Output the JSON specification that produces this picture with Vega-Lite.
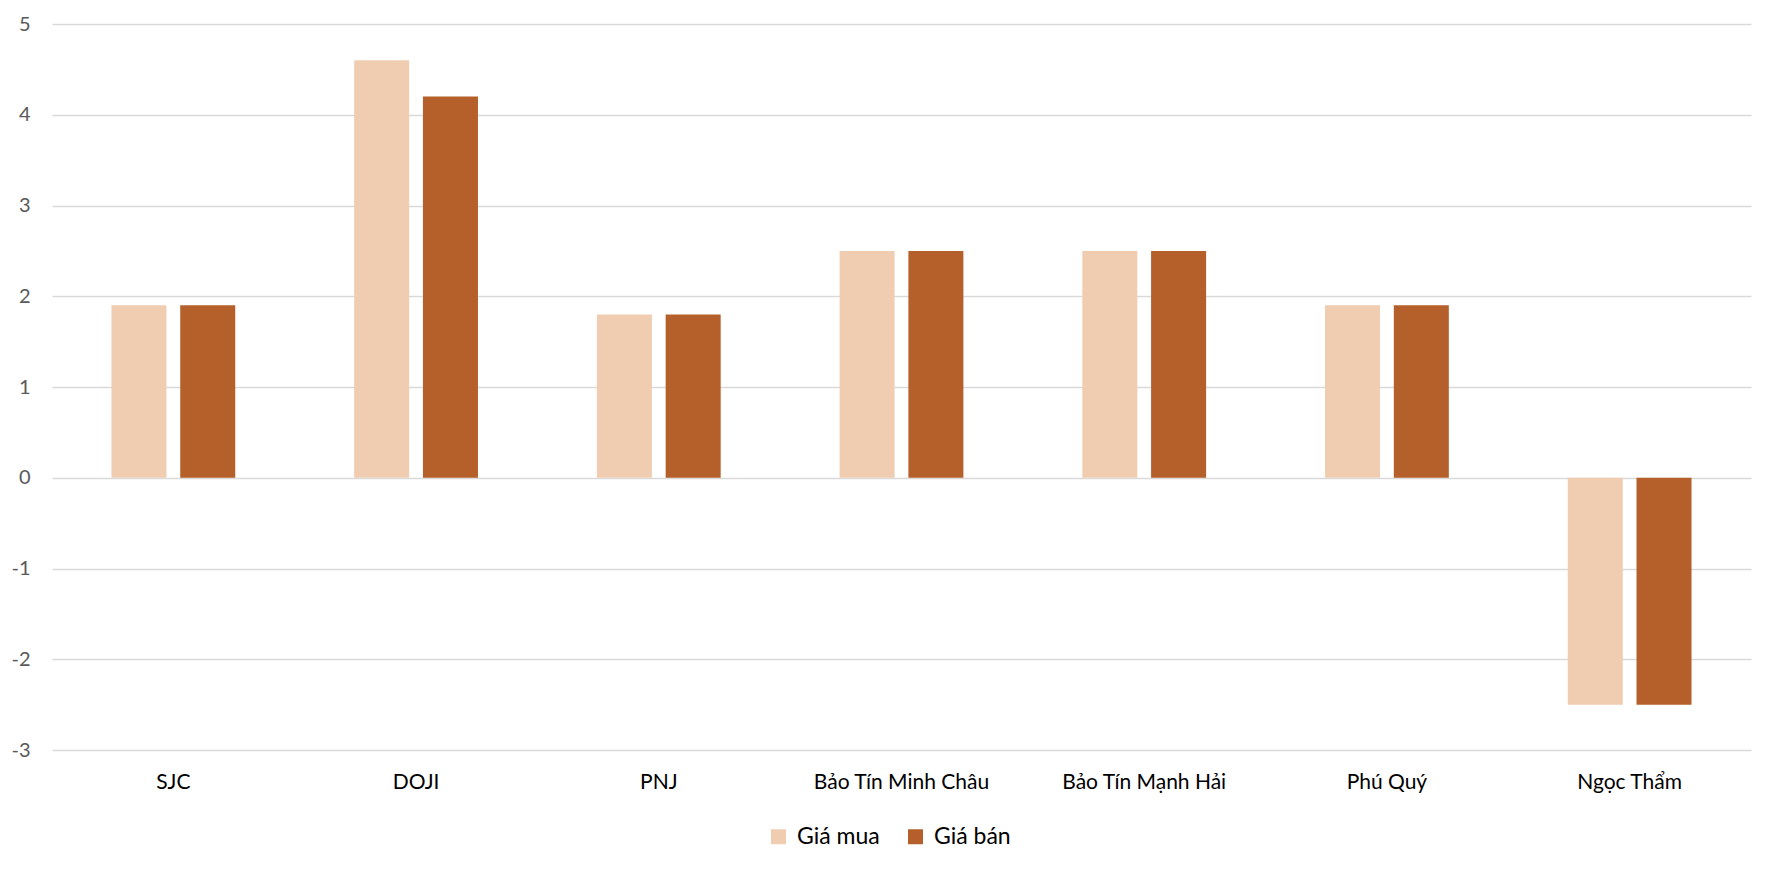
{
  "$schema": "https://vega.github.io/schema/vega-lite/v6.json",
  "autosize": {"type": "none"},
  "width": 1699,
  "height": 726,
  "padding": {"left": 52, "top": 24, "right": 23, "bottom": 122},
  "background": "white",
  "data": {
    "values": [
      {"brand": "SJC", "series": "Giá mua", "value": 1.9},
      {"brand": "SJC", "series": "Giá bán", "value": 1.9},
      {"brand": "DOJI", "series": "Giá mua", "value": 4.6},
      {"brand": "DOJI", "series": "Giá bán", "value": 4.2},
      {"brand": "PNJ", "series": "Giá mua", "value": 1.8},
      {"brand": "PNJ", "series": "Giá bán", "value": 1.8},
      {"brand": "Bảo Tín Minh Châu", "series": "Giá mua", "value": 2.5},
      {"brand": "Bảo Tín Minh Châu", "series": "Giá bán", "value": 2.5},
      {"brand": "Bảo Tín Mạnh Hải", "series": "Giá mua", "value": 2.5},
      {"brand": "Bảo Tín Mạnh Hải", "series": "Giá bán", "value": 2.5},
      {"brand": "Phú Quý", "series": "Giá mua", "value": 1.9},
      {"brand": "Phú Quý", "series": "Giá bán", "value": 1.9},
      {"brand": "Ngọc Thẩm", "series": "Giá mua", "value": -2.5},
      {"brand": "Ngọc Thẩm", "series": "Giá bán", "value": -2.5}
    ]
  },
  "mark": {"type": "bar"},
  "encoding": {
    "x": {
      "field": "brand",
      "type": "nominal",
      "sort": null,
      "scale": {"paddingInner": 0.49, "paddingOuter": 0.245},
      "axis": {
        "title": null,
        "labelAngle": 0,
        "domain": false,
        "ticks": false,
        "labelFont": "Lato",
        "labelFontSize": 21,
        "labelColor": "#000000",
        "labelPadding": 21
      }
    },
    "xOffset": {
      "field": "series",
      "type": "nominal",
      "sort": ["Giá mua", "Giá bán"],
      "scale": {"paddingInner": 0.2, "paddingOuter": 0}
    },
    "y": {
      "field": "value",
      "type": "quantitative",
      "scale": {"domain": [-3, 5], "nice": false},
      "axis": {
        "title": null,
        "values": [-3, -2, -1, 0, 1, 2, 3, 4, 5],
        "labelExpr": "'' + datum.value",
        "domain": false,
        "ticks": false,
        "grid": true,
        "gridColor": "#D9D9D9",
        "gridWidth": 1.5,
        "labelFont": "Lato",
        "labelFontSize": 20,
        "labelColor": "#595959",
        "labelPadding": 22
      }
    },
    "color": {
      "field": "series",
      "type": "nominal",
      "sort": ["Giá mua", "Giá bán"],
      "scale": {"domain": ["Giá mua", "Giá bán"], "range": ["#F0CDB1", "#B5602A"]},
      "legend": {
        "title": null,
        "orient": "none",
        "direction": "horizontal",
        "legendX": 715,
        "legendY": 801,
        "symbolType": "square",
        "symbolSize": 225,
        "symbolStrokeWidth": 0,
        "labelFont": "Lato",
        "labelFontSize": 23,
        "labelColor": "#000000",
        "labelOffset": 7,
        "columnPadding": 24
      }
    }
  },
  "config": {"view": {"stroke": null}}
}
